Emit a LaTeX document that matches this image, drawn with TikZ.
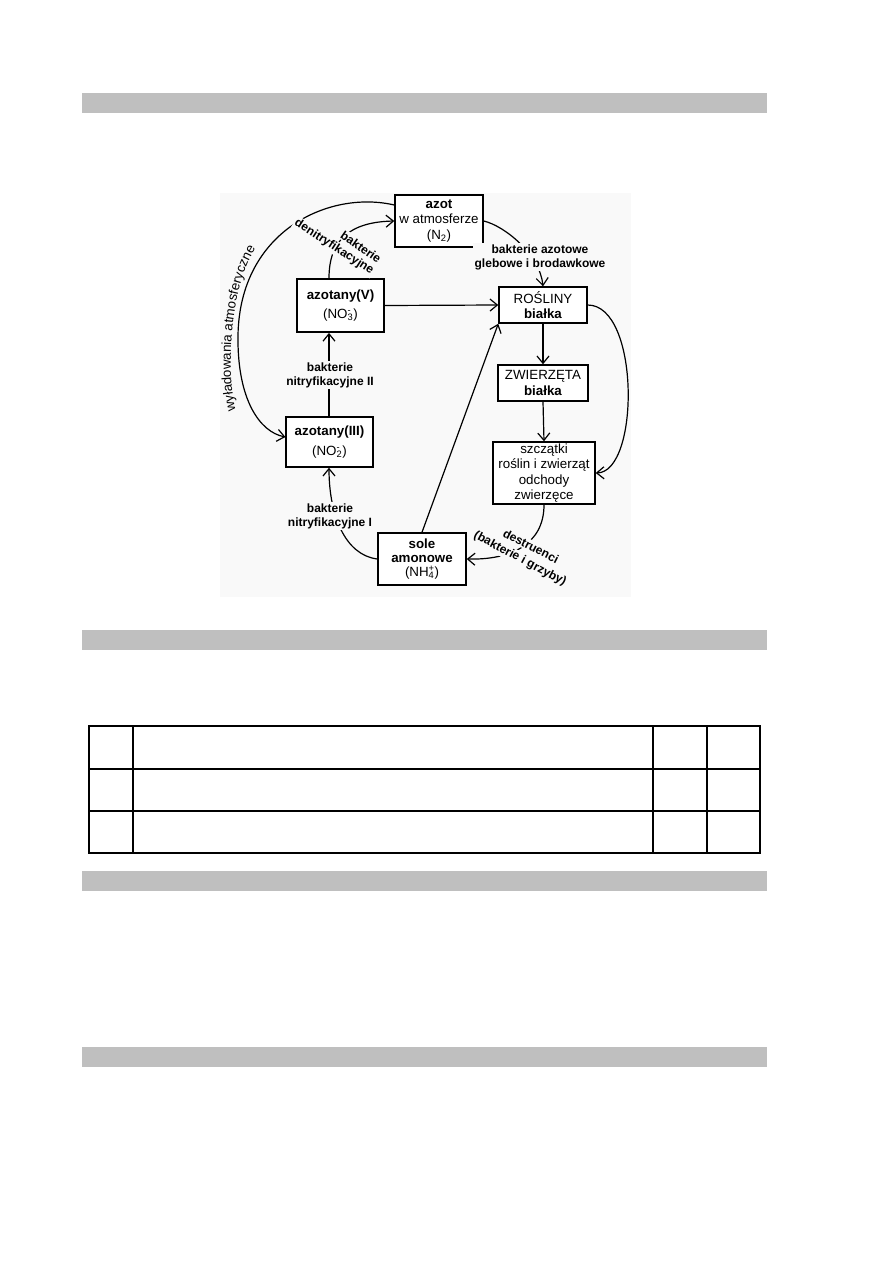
\documentclass[tikz,border=0pt]{standalone}
\usepackage{fontspec}
\setmainfont{Liberation Sans}
\usetikzlibrary{arrows.meta,decorations.text}

\definecolor{bargray}{gray}{0.75}
\definecolor{diagbg}{gray}{0.975}
\newcommand{\chion}[2]{\rlap{\textsuperscript{#2}}\textsubscript{#1}}

\begin{document}
\begin{tikzpicture}[x=0.75pt, y=-0.75pt, >={Straight Barb[length=5.5pt,width=9pt]},
    box/.style={draw, line width=1.1pt, fill=white, align=center, inner sep=1pt,
        font=\fontsize{10}{11.5}\selectfont},
    lbl/.style={fill=diagbg, align=center, inner sep=1pt,
        font=\fontsize{9}{10.5}\selectfont\bfseries},
    flow/.style={->, line width=0.9pt}]
    \useasboundingbox (0,0) rectangle (893,1263);

    % grey bars of the page
    \foreach \y in {93, 630, 871, 1047}
        \fill[bargray] (82,\y) rectangle (767,\y+20);

    % Nitrogen cycle
    \fill[diagbg] (220,193) rectangle (631,597);

    \node[box, minimum width=66pt, minimum height=39pt] (azot) at (439,221)
        {\textbf{azot}\\w atmosferze\\(N\textsubscript{2})};
    \node[box, minimum width=65pt, minimum height=40pt] (azotV) at (340.5,305.5)
        {\textbf{azotany(V)}\\[3pt](NO\chion{3}{-})};
    \node[box, minimum width=65pt, minimum height=37.5pt] (azotIII) at (329.5,442)
        {\textbf{azotany(III)}\\[3pt](NO\chion{2}{-})};
    \node[box, minimum width=66pt, minimum height=39pt] (sole) at (422,559)
        {\textbf{sole}\\[-1pt]\textbf{amonowe}\\[-1pt](NH\chion{4}{+})};
    \node[box, minimum width=66pt, minimum height=27pt] (rosliny) at (543,305)
        {ROŚLINY\\\textbf{białka}};
    \node[box, minimum width=67.5pt, minimum height=27pt] (zwierzeta) at (543,383)
        {ZWIERZĘTA\\\textbf{białka}};
    \node[box, minimum width=76.5pt, minimum height=46.5pt] (szczatki) at (544,473)
        {szczątki\\roślin i zwierząt\\odchody\\zwierzęce};

    % straight arrows
    \draw[flow] (azotIII.north -| 329,0) -- (azotV.south -| 329,0);
    \draw[flow] (azotV.east) -- (rosliny.west);
    \draw[flow] (sole.north) -- (rosliny.south west);
    \draw[flow] (rosliny.south) -- (zwierzeta.north);
    \draw[flow] (zwierzeta.south) -- (szczatki.north);

    % curved arrows
    \draw[flow] (azotV.north -| 329,0) .. controls (329,240) and (350,222) .. (azot.west);
    \draw[flow] (azot.east) .. controls (505,226) and (540,255) .. (rosliny.north);
    \draw[flow] (rosliny.east) .. controls (640,305) and (640,472) .. (szczatki.east);
    \draw[flow] (szczatki.south) .. controls (544,545) and (510,560) .. (sole.east);
    \draw[flow] (sole.west) .. controls (345,555) and (329,515) .. (azotIII.south -| 329,0);
    \draw[flow] (azot.west |- 0,205) .. controls (330,190) and (240,230) .. (238,335)
        .. controls (237,400) and (260,432) .. (azotIII.west |- 0,437);

    % labels
    \path[decorate, decoration={text along path, text align=center,
        text={|\fontsize{10}{12}\selectfont|wyładowania atmosferyczne}}]
        (237,415) .. controls (227,385) and (226,290) .. (258,245);
    \node[lbl] (nitrII) at (330,375) {bakterie\\nitryfikacyjne II};
    \node[lbl] (nitrI) at (330,516) {bakterie\\nitryfikacyjne I};
    \node[lbl] (azotowe) at (540,257) {bakterie azotowe\\glebowe i brodawkowe};
    \node[lbl, rotate=-33] (denitr) at (334,247) {denitryfikacyjne};
    \node[lbl, rotate=-35] (bakt) at (361,247) {bakterie};
    \node[lbl, rotate=-27] (destr) at (531,546) {destruenci};
    \node[lbl, rotate=-28] (grzyby) at (520,559) {(bakterie i grzyby)};

    % answer table
    \draw[line width=1pt] (89,726) rectangle (760,853);
    \foreach \y in {769, 811}
        \draw[line width=1pt] (89,\y) -- (760,\y);
    \foreach \x in {133, 653, 707}
        \draw[line width=1pt] (\x,726) -- (\x,853);
\end{tikzpicture}
\end{document}
